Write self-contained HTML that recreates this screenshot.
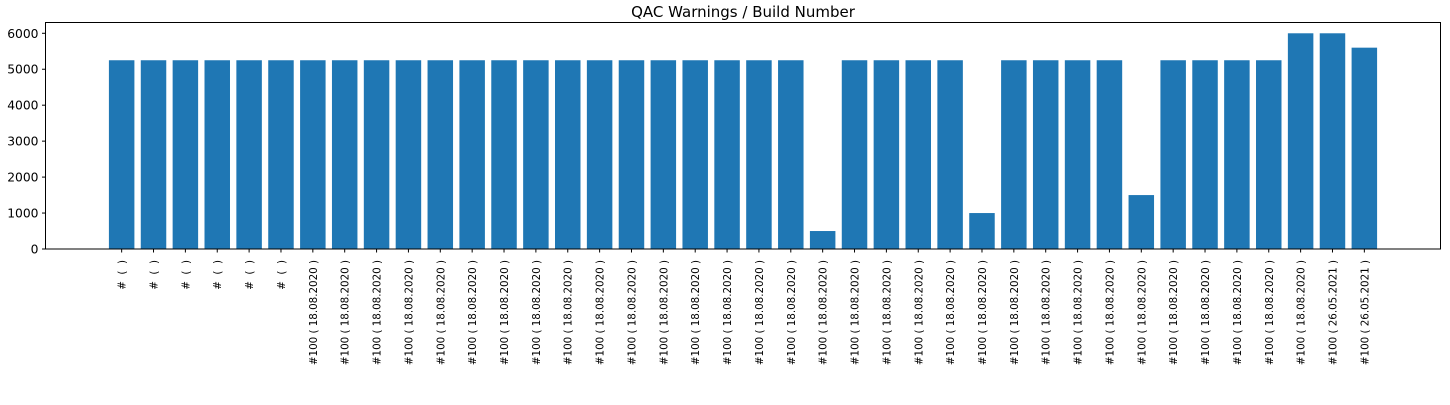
<!DOCTYPE html>
<html><head><meta charset="utf-8"><style>
body{margin:0;background:#fff;width:1450px;height:400px;overflow:hidden}
svg{font-family:"DejaVu Sans","Liberation Sans",sans-serif}
</style></head><body>
<svg id="chart" width="1450" height="400" viewBox="0 0 1450 400">
<text x="743" y="17" text-anchor="middle" font-size="15">QAC Warnings / Build Number</text>
<g id="bars"></g><g id="xticks"></g><g id="yticks"></g>
<rect x="45.5" y="22.5" width="1395" height="226.5" fill="none" stroke="#000" stroke-width="1"/>
</svg>
<script>
const categories = [
"#  (  )","#  (  )","#  (  )","#  (  )","#  (  )","#  (  )",
"#100 ( 18.08.2020 )","#100 ( 18.08.2020 )","#100 ( 18.08.2020 )","#100 ( 18.08.2020 )","#100 ( 18.08.2020 )","#100 ( 18.08.2020 )","#100 ( 18.08.2020 )","#100 ( 18.08.2020 )","#100 ( 18.08.2020 )","#100 ( 18.08.2020 )","#100 ( 18.08.2020 )","#100 ( 18.08.2020 )","#100 ( 18.08.2020 )","#100 ( 18.08.2020 )","#100 ( 18.08.2020 )","#100 ( 18.08.2020 )","#100 ( 18.08.2020 )","#100 ( 18.08.2020 )","#100 ( 18.08.2020 )","#100 ( 18.08.2020 )","#100 ( 18.08.2020 )","#100 ( 18.08.2020 )","#100 ( 18.08.2020 )","#100 ( 18.08.2020 )","#100 ( 18.08.2020 )","#100 ( 18.08.2020 )","#100 ( 18.08.2020 )","#100 ( 18.08.2020 )","#100 ( 18.08.2020 )","#100 ( 18.08.2020 )","#100 ( 18.08.2020 )","#100 ( 18.08.2020 )","#100 ( 26.05.2021 )","#100 ( 26.05.2021 )"];
const warnings = [5250,5250,5250,5250,5250,5250,5250,5250,5250,5250,5250,5250,5250,5250,5250,5250,5250,5250,5250,5250,5250,5250,500,5250,5250,5250,5250,1000,5250,5250,5250,5250,1500,5250,5250,5250,5250,6000,6000,5600];
const yTicks = [0,1000,2000,3000,4000,5000,6000];
const NS="http://www.w3.org/2000/svg";
const L=45.5,R=1440.5,T=22.5,B=249;
const n=categories.length;
const xmin=-0.4-0.05*(n-0.2), xmax=(n-1)+0.4+0.05*(n-0.2);
const ymax=6000*1.05;
function x(v){return L+(v-xmin)/(xmax-xmin)*(R-L);}
function y(v){return B-v/ymax*(B-T);}
const gb=document.getElementById('bars'),gx=document.getElementById('xticks'),gy=document.getElementById('yticks');
function mk(t,a){const e=document.createElementNS(NS,t);for(const k in a)e.setAttribute(k,a[k]);return e;}
warnings.forEach((v,i)=>{
 const r=mk('rect',{x:x(i-0.4),y:y(v),width:x(i+0.4)-x(i-0.4),height:B-y(v),fill:'#1f77b4'});
 
 
 gb.appendChild(r);
 const tk=mk('line',{x1:x(i),x2:x(i),y1:B,y2:B+3.5,stroke:'#000'});
 
 
 gx.appendChild(tk);
 const t=mk('text',{transform:`translate(${x(i)+4},${B+11}) rotate(-90)`,'text-anchor':'end','font-size':'10.3'});
 t.style.whiteSpace='pre';
 t.textContent=categories[i];
 
 
 gx.appendChild(t);
});
yTicks.forEach(v=>{
 const tk=mk('line',{x1:L-3.5,x2:L,y1:y(v),y2:y(v),stroke:'#000'});
 
 
 gy.appendChild(tk);
 const t=mk('text',{x:L-7,y:y(v)+4.5,'text-anchor':'end','font-size':'12.3'});
 t.textContent=v;
 
 
 gy.appendChild(t);
});
</script>
</body></html>
